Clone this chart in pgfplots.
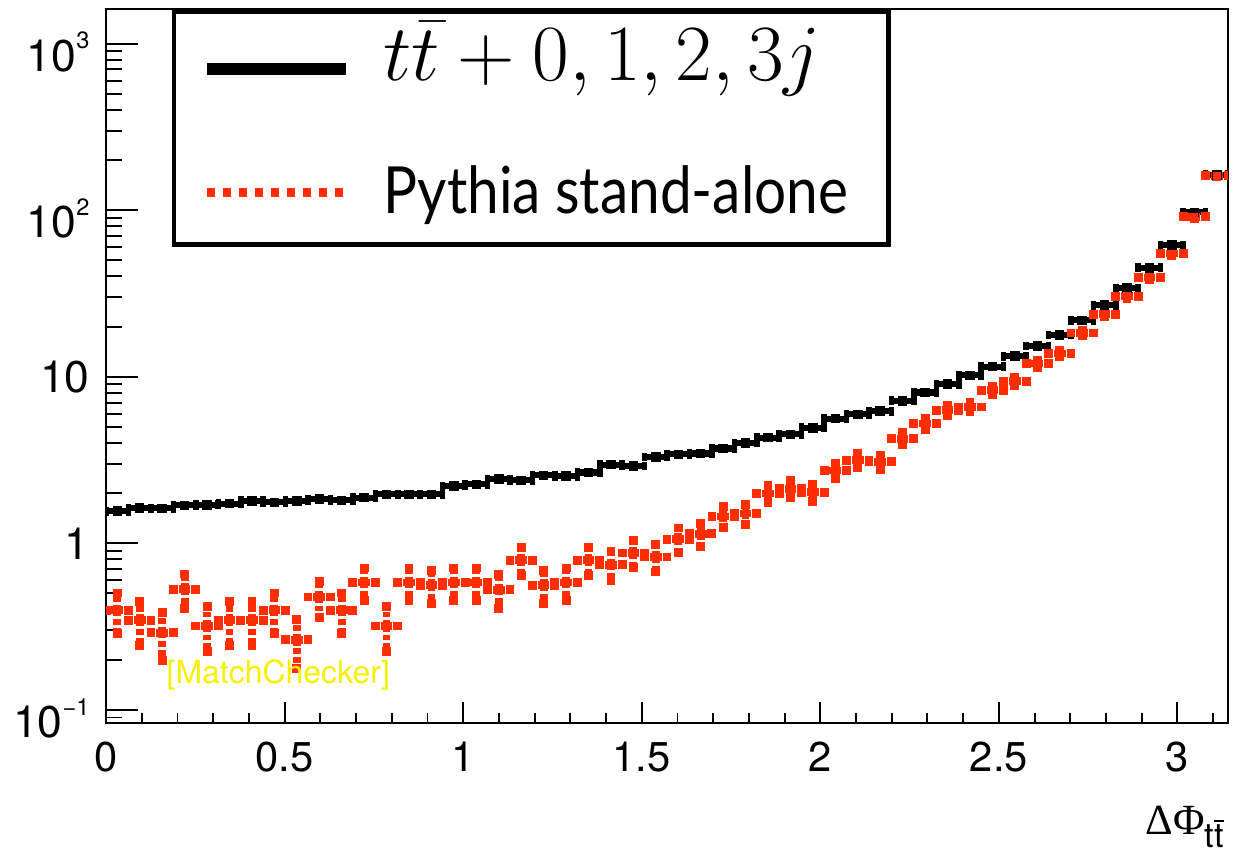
\RequirePackage{fix-cm}
\documentclass[border=0pt]{standalone}
\usepackage{fontspec}
\setmainfont{TeX Gyre Heros}
\newfontfamily\lato{Lato}
\newfontfamily\tser{Liberation Serif}
\usepackage{pgfplots}
\usepackage{pgfplotstable}
\pgfplotsset{compat=1.18}
\definecolor{rootred}{RGB}{255,45,0}
\definecolor{mcyellow}{RGB}{248,240,0}

\pgfplotstableread{
x y ex
0.0314 1.56 0.0314
0.0942 1.63 0.0314
0.1571 1.62 0.0314
0.2199 1.69 0.0314
0.2827 1.70 0.0314
0.3456 1.73 0.0314
0.4084 1.80 0.0314
0.4712 1.76 0.0314
0.5341 1.80 0.0314
0.5969 1.84 0.0314
0.6597 1.81 0.0314
0.7226 1.88 0.0314
0.7854 1.97 0.0314
0.8482 1.97 0.0314
0.9111 1.97 0.0314
0.9739 2.21 0.0314
1.0367 2.26 0.0314
1.0996 2.43 0.0314
1.1624 2.39 0.0314
1.2252 2.56 0.0314
1.2881 2.53 0.0314
1.3509 2.66 0.0314
1.4137 2.97 0.0314
1.4765 2.91 0.0314
1.5394 3.30 0.0314
1.6022 3.42 0.0314
1.6650 3.46 0.0314
1.7279 3.71 0.0314
1.7907 4.00 0.0314
1.8535 4.31 0.0314
1.9164 4.51 0.0314
1.9792 4.93 0.0314
2.0420 5.61 0.0314
2.1049 5.95 0.0314
2.1677 6.21 0.0314
2.2305 7.16 0.0314
2.2934 8.04 0.0314
2.3562 9.02 0.0314
2.4190 10.2 0.0314
2.4819 11.5 0.0314
2.5447 13.3 0.0314
2.6075 15.3 0.0314
2.6704 17.8 0.0314
2.7332 21.8 0.0314
2.7960 26.9 0.0314
2.8588 34.1 0.0314
2.9217 45.0 0.0314
2.9845 61.6 0.0314
3.0473 96.9 0.0314
3.1102 163 0.0314
}\blackdata

\pgfplotstableread{
x y ex ey
0.0314 0.396 0.0314 0.107
0.0942 0.345 0.0314 0.100
0.1571 0.291 0.0314 0.092
0.2199 0.530 0.0314 0.124
0.2827 0.319 0.0314 0.096
0.3456 0.345 0.0314 0.100
0.4084 0.345 0.0314 0.100
0.4712 0.396 0.0314 0.107
0.5341 0.264 0.0314 0.087
0.5969 0.476 0.0314 0.117
0.6597 0.396 0.0314 0.107
0.7226 0.581 0.0314 0.130
0.7854 0.319 0.0314 0.096
0.8482 0.581 0.0314 0.130
0.9111 0.560 0.0314 0.127
0.9739 0.581 0.0314 0.130
1.0367 0.581 0.0314 0.130
1.0996 0.527 0.0314 0.123
1.1624 0.791 0.0314 0.151
1.2252 0.560 0.0314 0.127
1.2881 0.581 0.0314 0.130
1.3509 0.791 0.0314 0.151
1.4137 0.745 0.0314 0.147
1.4765 0.875 0.0314 0.159
1.5394 0.828 0.0314 0.155
1.6022 1.06 0.0314 0.175
1.6650 1.14 0.0314 0.182
1.7279 1.45 0.0314 0.205
1.7907 1.51 0.0314 0.209
1.8535 1.99 0.0314 0.240
1.9164 2.13 0.0314 0.248
1.9792 2.03 0.0314 0.242
2.0420 2.74 0.0314 0.281
2.1049 3.15 0.0314 0.302
2.1677 3.08 0.0314 0.298
2.2305 4.25 0.0314 0.350
2.2934 5.24 0.0314 0.389
2.3562 6.29 0.0314 0.426
2.4190 6.58 0.0314 0.436
2.4819 8.30 0.0314 0.490
2.5447 9.40 0.0314 0.521
2.6075 12.0 0.0314 0.589
2.6704 13.8 0.0314 0.632
2.7332 18.3 0.0314 0.727
2.7960 23.7 0.0314 0.828
2.8588 30.4 0.0314 0.937
2.9217 39.4 0.0314 1.067
2.9845 55.0 0.0314 1.261
3.0473 91.2 0.0314 1.624
3.1102 161 0.0314 2.157
}\reddata

\newcommand\sups[1]{\raisebox{8pt}{\fontsize{8.5}{8.5}\selectfont #1}}

\begin{document}
\begin{tikzpicture}
\useasboundingbox (-38.2pt,-46.3pt) rectangle (414.7pt,260.4pt);
\begin{axis}[
  at={(0,0)}, anchor=south west,
  scale only axis, width=403.9pt, height=257.0pt,
  xmin=0, xmax=3.14159,
  ymode=log, ymin=0.0831, ymax=1603,
  axis line style={line width=0.7pt},
  every tick/.style={line width=0.7pt, black},
  tick align=inside,
  xtick pos=left, ytick pos=left,
  xtick={0,0.5,1,1.5,2,2.5,3},
  minor xtick={0.1,0.2,0.3,0.4,0.6,0.7,0.8,0.9,1.1,1.2,1.3,1.4,1.6,1.7,1.8,1.9,2.1,2.2,2.3,2.4,2.6,2.7,2.8,2.9,3.1},
  ytick={0.1,1,10,100,1000},
  yticklabels={\raisebox{-4.1pt}{10\sups{−1}},1,10,\raisebox{-4.1pt}{10\sups{2}},\raisebox{-4.1pt}{10\sups{3}}},
  minor ytick={0.09,0.2,0.3,0.4,0.5,0.6,0.7,0.8,0.9,2,3,4,5,6,7,8,9,20,30,40,50,60,70,80,90,200,300,400,500,600,700,800,900},
  xtick style={/pgfplots/major tick length=7.8pt, /pgfplots/minor tick length=3.85pt},
  ytick style={/pgfplots/major tick length=11.6pt, /pgfplots/minor tick length=5.6pt},
  /pgf/number format/assume math mode=true,
  xticklabel style={font=\fontsize{15}{15}\selectfont, inner sep=0pt, anchor=north, yshift=-6.6pt},
  yticklabel style={font=\fontsize{16}{16}\selectfont, inner sep=0pt, anchor=base east, xshift=-5.8pt, yshift=-5.8pt},
  xlabel={{\tser\fontsize{15.5}{16}\selectfont ΔΦ}\raisebox{-4.6pt}{\fontsize{12.3}{13}\selectfont t$\overline{\hbox{t}}$}},
  xlabel style={at={(axis description cs:0.9965,-0.1564)}, anchor=base east, inner sep=0pt},
]
\addplot[black, only marks, mark=square*, mark size=1.5pt,
  error bars/.cd, x dir=both, x explicit,
  error mark=|, error mark options={black, line width=2pt, mark size=1.6pt},
  error bar style={line width=2.2pt}]
  table[x=x, y=y, x error=ex]{\blackdata};
\addplot[rootred, only marks, mark=square*, mark size=1.2pt,
  error bars/.cd, x dir=both, x explicit, y dir=both, y explicit,
  error mark=square*, error mark options={rootred, solid, mark size=1.4pt},
  error bar style={line width=2.8pt, dash pattern=on 2.1pt off 1.0pt}]
  table[x=x, y=y, x error=ex, y error=ey]{\reddata};

\draw[line width=1.55pt, fill=white] (axis description cs:0.0604,0.9972) rectangle (axis description cs:0.6973,0.6706);
\draw[line width=4.2pt] (axis description cs:0.0903,0.9161) -- (axis description cs:0.2139,0.9161);
\draw[rootred, line width=3pt, dash pattern=on 2.8pt off 2.96pt] (axis description cs:0.0899,0.7434) -- (axis description cs:0.2112,0.7434);
\node[anchor=base west, inner sep=0pt, font=\fontsize{28.7}{30}\selectfont] at (axis description cs:0.2469,0.8998) {$t\bar{t}+0,1,2,3j$};
\node[anchor=base west, inner sep=0pt] at (axis description cs:0.2469,0.7139) {\resizebox{167.2pt}{\height}{\lato\fontsize{23.4}{24}\selectfont Pythia stand-alone}};
\node[anchor=base west, inner sep=0pt, text=mcyellow, font=\fontsize{11.5}{12}\selectfont] at (axis description cs:0.0535,0.0560) {[MatchChecker]};
\end{axis}
\end{tikzpicture}
\end{document}
